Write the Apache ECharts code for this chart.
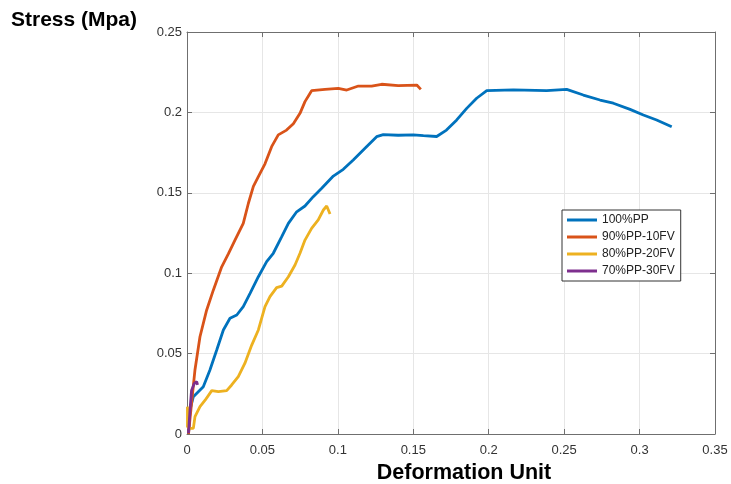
<!DOCTYPE html>
<html>
<head>
<meta charset="utf-8">
<script src="https://cdn.jsdelivr.net/npm/echarts@6/dist/echarts.min.js"></script>
<style>
html,body{margin:0;padding:0;background:#fff;}
#c{width:731px;height:484px;}
</style>
</head>
<body>
<div id="c"></div>
<script>
const seriesNames = ['100%PP', '90%PP-10FV', '80%PP-20FV', '70%PP-30FV'];
const xTicks = [0, 0.05, 0.1, 0.15, 0.2, 0.25, 0.3, 0.35];
const yTicks = [0, 0.05, 0.1, 0.15, 0.2, 0.25];

const pp100X = [0.001,0.002,0.0042,0.0075,0.0108,0.0152,0.0197,0.0241,0.0285,0.033,0.0373,0.0418,0.0473,0.0528,0.0572,0.0628,0.0672,0.0727,0.0782,0.0837,0.0893,0.097,0.1036,0.1102,0.118,0.1257,0.1301,0.140,0.150,0.1567,0.1655,0.172,0.1788,0.1854,0.192,0.1987,0.2163,0.2384,0.2517,0.2627,0.2738,0.2826,0.2937,0.3025,0.3113,0.3213];
const pp100Y = [0,0.015,0.0232,0.0263,0.0294,0.0398,0.0522,0.0647,0.072,0.074,0.0792,0.0875,0.0978,0.1072,0.1124,0.1227,0.131,0.1382,0.1418,0.1476,0.1528,0.1604,0.1646,0.1704,0.1777,0.1849,0.1862,0.1858,0.186,0.1855,0.185,0.189,0.1953,0.2025,0.2088,0.2135,0.214,0.2135,0.2143,0.2108,0.2077,0.2057,0.2019,0.1984,0.1953,0.1911];

const fv10X = [0.001,0.003,0.0053,0.0086,0.013,0.0175,0.023,0.0274,0.0318,0.0373,0.0407,0.044,0.0473,0.0517,0.0561,0.0605,0.066,0.0705,0.0749,0.0782,0.0826,0.0915,0.1003,0.1059,0.1136,0.1224,0.129,0.140,0.1523,0.155];
const fv10Y = [0,0.019,0.040,0.0605,0.077,0.0896,0.104,0.112,0.1206,0.131,0.1435,0.154,0.160,0.168,0.1787,0.186,0.189,0.193,0.1994,0.2067,0.2135,0.2143,0.215,0.2139,0.2164,0.2164,0.2175,0.2166,0.217,0.2143];

const fv20X = [0.0003,0.0003,0.001,0.0042,0.0053,0.0086,0.012,0.0164,0.0208,0.0263,0.0296,0.034,0.0384,0.0429,0.0473,0.0517,0.055,0.0594,0.0628,0.0672,0.0716,0.0749,0.0782,0.0826,0.087,0.0904,0.0926,0.0948];
const fv20Y = [0.004,0.017,0.0035,0.0035,0.0108,0.017,0.021,0.027,0.0263,0.027,0.0305,0.0357,0.044,0.0553,0.0647,0.0792,0.0854,0.091,0.092,0.0978,0.1051,0.1124,0.1206,0.1279,0.1331,0.1393,0.1418,0.1368];

const fv30X = [0.001,0.002,0.003,0.0049,0.0064,0.007];
const fv30Y = [0.0005,0.015,0.027,0.0315,0.0325,0.0305];

const colors = ['#0072BD', '#D95319', '#EDB120', '#7E2F8E'];
const zip = (xs, ys) => xs.map((x, i) => [x, ys[i]]);
const dataSets = [zip(pp100X, pp100Y), zip(fv10X, fv10Y), zip(fv20X, fv20Y), zip(fv30X, fv30Y)];

const FONT = '"Liberation Sans", Arial, Helvetica, sans-serif';
const axisColor = '#6f6f6f';
const gridColor = '#e6e6e6';

const baseAxis = {
  axisLine: {show: true, onZero: false, lineStyle: {color: axisColor, width: 1}},
  axisTick: {show: true, inside: true, length: 5, lineStyle: {color: axisColor}},
  splitLine: {show: false},
  axisLabel: {show: false}
};

const chart = echarts.init(document.getElementById('c'));
chart.setOption({
  animation: false,
  backgroundColor: '#fff',
  color: colors,
  grid: {left: 187, right: 16, top: 32, bottom: 50, containLabel: false, outerBoundsMode: 'none'},
  graphic: [{
    type: 'text', left: 11, top: 10,
    style: {text: 'Stress (Mpa)', font: 'bold 21px ' + FONT, fill: '#000'}
  }],
  legend: {
    orient: 'vertical', left: 562, top: 210,
    data: seriesNames,
    icon: 'rect', itemWidth: 30, itemHeight: 3, itemGap: 5,
    padding: [4, 6, 4, 5],
    borderColor: '#333', borderWidth: 1, backgroundColor: '#fff',
    textStyle: {fontFamily: FONT, fontSize: 12, color: '#222', lineHeight: 12}
  },
  xAxis: [{
    ...baseAxis, type: 'value', min: 0, max: 0.35, interval: 0.05, position: 'bottom',
    splitLine: {show: true, lineStyle: {color: gridColor}},
    axisLabel: {show: true, fontFamily: FONT, fontSize: 13, color: '#333', margin: 10,
      formatter: v => { const t = xTicks.find(k => Math.abs(k - v) < 1e-9); return t === undefined ? '' : String(t); }},
    name: 'Deformation Unit', nameLocation: 'middle', nameGap: 27,
    nameTextStyle: {fontFamily: FONT, fontSize: 21.5, fontWeight: 'bold', color: '#000', verticalAlign: 'top', padding: [0, 0, 0, 26]}
  }, {
    ...baseAxis, type: 'value', min: 0, max: 0.35, interval: 0.05, position: 'top'
  }],
  yAxis: [{
    ...baseAxis, type: 'value', min: 0, max: 0.25, interval: 0.05, position: 'left',
    splitLine: {show: true, lineStyle: {color: gridColor}},
    axisLabel: {show: true, fontFamily: FONT, fontSize: 13, color: '#333', margin: 5,
      formatter: v => { const t = yTicks.find(k => Math.abs(k - v) < 1e-9); return t === undefined ? '' : String(t); }}
  }, {
    ...baseAxis, type: 'value', min: 0, max: 0.25, interval: 0.05, position: 'right'
  }],
  series: seriesNames.map((n, i) => ({
    name: n, type: 'line', data: dataSets[i], showSymbol: false, symbol: 'none',
    xAxisIndex: 0, yAxisIndex: 0,
    lineStyle: {width: 2.8, color: colors[i]}, itemStyle: {color: colors[i]},
    z: 2 + i
  }))
});
</script>
</body>
</html>
